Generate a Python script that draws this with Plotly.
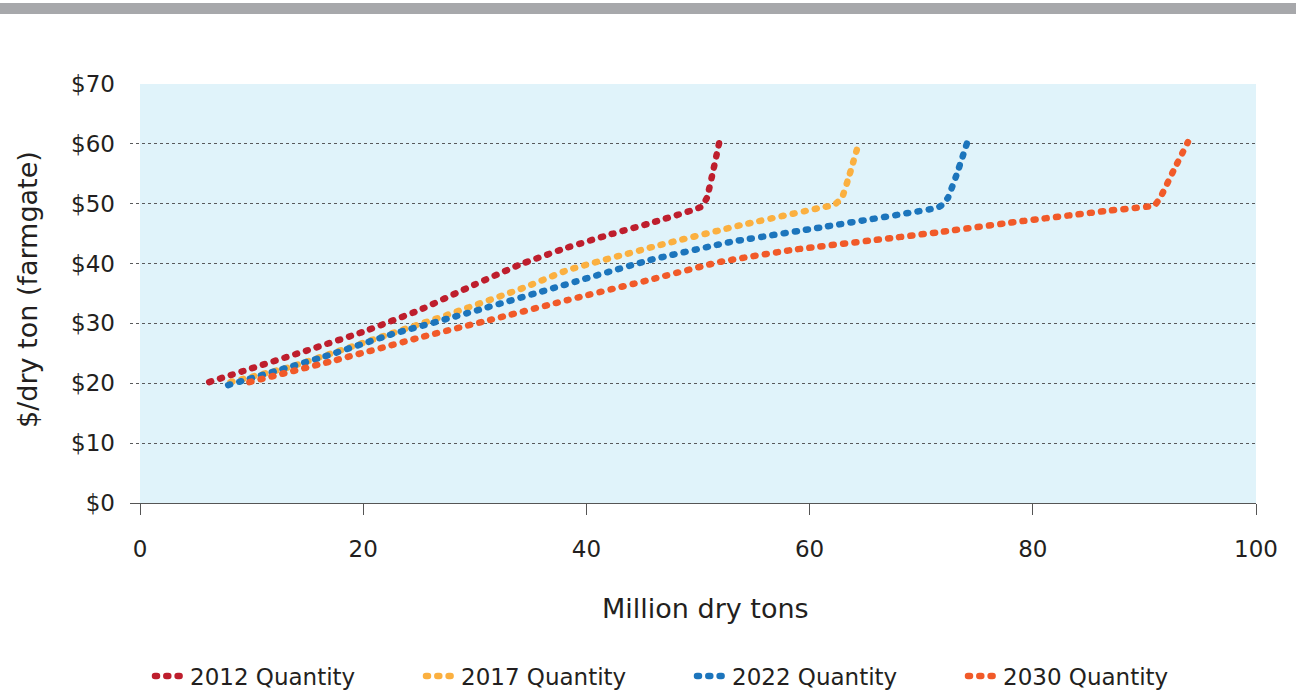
import plotly.graph_objects as go

# ---- data ----
x_2012 = [6.2, 10, 15, 20, 25, 30, 34, 38, 42, 46, 50.3, 50.8, 51.3, 51.9]
y_2012 = [20.2, 22.5, 25.5, 28.6, 32.2, 36.5, 39.8, 42.5, 44.8, 46.9, 49.5, 51.0, 55.0, 60.2]

x_2017 = [8.1, 13.4, 21.2, 27.5, 34.3, 38.3, 46.6, 53.8, 60.9, 62.2, 62.9, 63.6, 64.4]
y_2017 = [20.2, 22.7, 27.5, 31.4, 35.9, 38.9, 43.1, 46.4, 49.3, 49.8, 51.0, 55.0, 60.1]

x_2022 = [7.9, 16.4, 22.4, 29.3, 37.4, 45.7, 52.9, 61.2, 71.4, 71.8, 72.4, 73.2, 74.1]
y_2022 = [19.7, 24.4, 28.1, 31.7, 36.1, 40.6, 43.6, 46.1, 49.3, 49.7, 51.0, 55.0, 60.1]

x_2030 = [9.8, 17.0, 25.4, 31.4, 38.3, 45.7, 52.0, 58.5, 67.5, 71.4, 79.1, 86.6, 90.6, 91.0, 91.5, 92.6, 93.9]
y_2030 = [20.2, 23.6, 27.8, 30.6, 33.9, 37.3, 40.3, 42.3, 44.3, 45.2, 47.1, 48.8, 49.6, 49.9, 51.3, 55.5, 60.3]

series_names = ["2012 Quantity", "2017 Quantity", "2022 Quantity", "2030 Quantity"]
series_colors = ["#be1e2d", "#fbb040", "#1c75bc", "#f15a29"]

y_ticks = [0, 10, 20, 30, 40, 50, 60, 70]
y_ticklabels = ["$0", "$10", "$20", "$30", "$40", "$50", "$60", "$70"]
x_ticks = [0, 20, 40, 60, 80, 100]

FONT = "DejaVu Sans"
TXT = "#231f20"

fig = go.Figure()
for xs, ys, name, col in zip([x_2012, x_2017, x_2022, x_2030],
                             [y_2012, y_2017, y_2022, y_2030],
                             series_names, series_colors):
    fig.add_trace(go.Scatter(
        x=xs, y=ys, name=name, mode="lines",
        line=dict(color=col, width=6.5, dash="2px,9.3px", shape="spline", smoothing=0.3),
        hoverinfo="skip",
    ))

# pixel geometry: plot area x 130..1256, y 84..503
W, H = 1296, 692
L, R, T, B = 130, 40, 84, 189
pw = W - L - R
ph = H - T - B

fig.update_layout(
    width=W, height=H,
    margin=dict(l=L, r=R, t=T, b=B, pad=0, autoexpand=False),
    paper_bgcolor="white",
    plot_bgcolor="white",
    font=dict(family=FONT, color=TXT, size=23),
    showlegend=True,
    legend=dict(
        orientation="h", x=(150 - L) / pw, xanchor="left",
        y=(503 - 676) / ph, yanchor="middle",
        entrywidth=226, entrywidthmode="pixels",
        font=dict(size=23, color=TXT, family=FONT),
        bgcolor="rgba(0,0,0,0)", itemclick=False, itemdoubleclick=False,
        tracegroupgap=0,
    ),
    xaxis=dict(
        range=[-(140 - L) / ((1256 - 140) / 100), 100],
        tickmode="array", tickvals=x_ticks,
        ticks="outside", ticklen=11, tickcolor="#555555", tickwidth=1,
        showline=True, linecolor="#555555", linewidth=1,
        showgrid=False, zeroline=False,
        tickfont=dict(size=23, color=TXT),
        ticklabelstandoff=14,
    ),
    yaxis=dict(
        range=[0, 70],
        tickmode="array", tickvals=y_ticks, ticktext=y_ticklabels,
        ticks="", showline=False, zeroline=False,
        showgrid=True, gridcolor="#58595b", gridwidth=1, griddash="dot",
        tickfont=dict(size=23, color=TXT),
        ticklabelstandoff=14,
    ),
    shapes=[
        dict(type="rect", xref="x", yref="y", x0=0, x1=100, y0=0, y1=70,
             fillcolor="#e0f3fa", line=dict(width=0), layer="below"),
        dict(type="rect", xref="paper", yref="paper",
             x0=-L / pw, x1=1 + R / pw,
             y0=(503 - 14) / ph, y1=(503 - 3) / ph,
             fillcolor="#a7a8ab", line=dict(width=0), layer="above"),
    ],
    annotations=[
        dict(text="Million dry tons", xref="paper", yref="paper",
             x=(705 - L) / pw, y=(503 - 608) / ph, xanchor="center", yanchor="middle",
             showarrow=False, font=dict(size=27, color=TXT, family=FONT)),
        dict(text="$/dry ton (farmgate)", xref="paper", yref="paper",
             x=(27 - L) / pw, y=(503 - 290) / ph, xanchor="center", yanchor="middle",
             textangle=-90, showarrow=False, font=dict(size=27, color=TXT, family=FONT)),
    ],
)

post = """
document.body.style.margin='0';
document.body.style.overflow='hidden';
var s=document.createElement('style');
s.innerHTML='.scatterlayer .js-line, .legendlines path {stroke-linecap: round !important;}';
document.head.appendChild(s);
"""
fig.write_html("out.html", post_script=post, config={"displayModeBar": False})
